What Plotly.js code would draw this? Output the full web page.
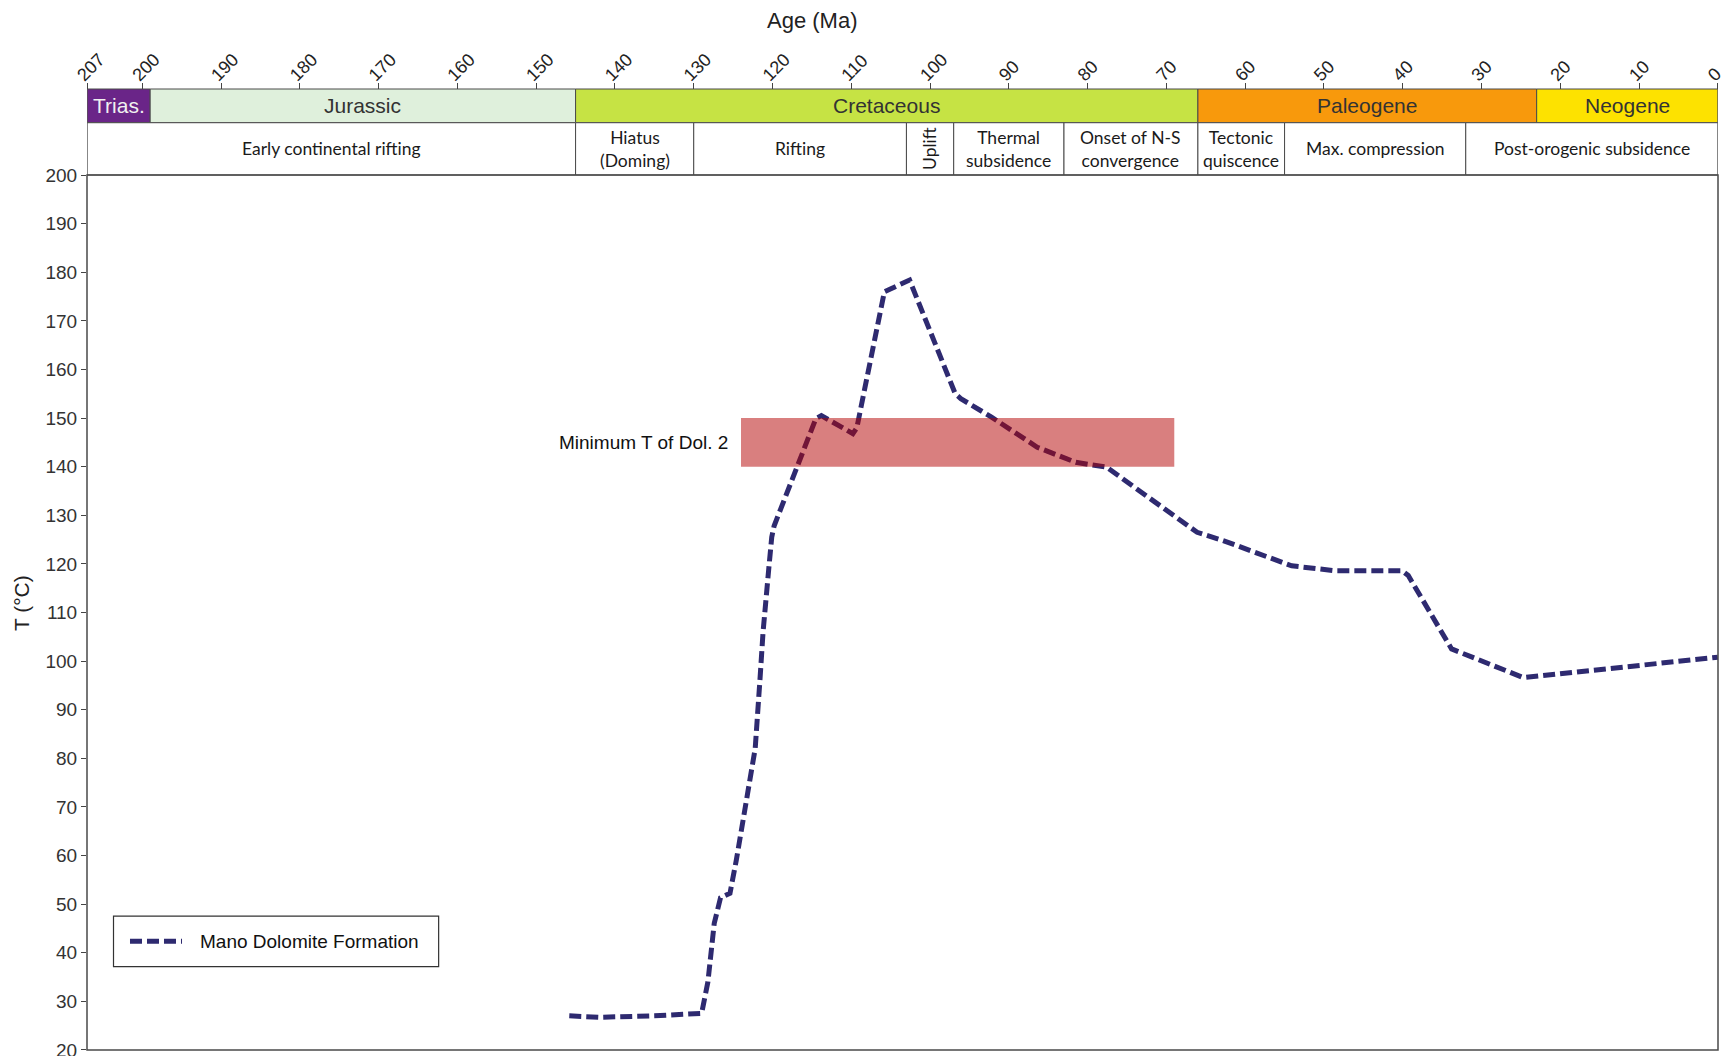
<!DOCTYPE html>
<html>
<head>
<meta charset="utf-8">
<script src="https://cdn.plot.ly/plotly-3.0.1.min.js"></script>
<style>html,body{margin:0;padding:0;background:#fff;}#chart{width:1728px;height:1056px;}</style>
</head>
<body>
<div id="chart"></div>
<script>
// ---- data ----
const seriesName = "Mano Dolomite Formation";
const ageMa = [145.8, 142.0, 135.0, 129.0, 128.2, 127.4, 126.6, 125.4, 124.6, 122.9, 122.2, 121.6, 121.2, 120.5, 120.1, 119.8, 114.5, 113.8, 109.8, 109.3, 105.8, 102.6, 96.8, 96.1, 92.2, 86.4, 81.5, 77.6, 73.4, 66.1, 62.8, 54.1, 48.6, 40.1, 39.3, 33.8, 24.7, 0];
const tempC = [27.0, 26.7, 27.0, 27.5, 34.0, 46.0, 51.3, 52.2, 59.0, 76.0, 82.0, 96.0, 106.0, 118.6, 125.5, 127.8, 149.9, 150.5, 146.8, 148.0, 176.0, 178.4, 155.0, 154.0, 150.2, 144.0, 140.9, 139.9, 135.0, 126.5, 124.8, 119.6, 118.6, 118.6, 117.6, 102.5, 96.6, 100.8];

const ageTicks = [207, 200, 190, 180, 170, 160, 150, 140, 130, 120, 110, 100, 90, 80, 70, 60, 50, 40, 30, 20, 10, 0];
const tempTicks = [20, 30, 40, 50, 60, 70, 80, 90, 100, 110, 120, 130, 140, 150, 160, 170, 180, 190, 200];

const periodNames = ["Trias.", "Jurassic", "Cretaceous", "Paleogene", "Neogene"];
const periodStart = [207, 199, 145, 66, 23];
const periodEnd   = [199, 145, 66, 23, 0];

const eventNames = ["Early continental rifting", "Hiatus<br>(Doming)", "Rifting", "Uplift", "Thermal<br>subsidence", "Onset of N-S<br>convergence", "Tectonic<br>quiscence", "Max. compression", "Post-orogenic subsidence"];
const eventStart = [207, 145, 130, 103, 97, 83, 66, 55, 32];
const eventEnd   = [145, 130, 103, 97, 83, 66, 55, 32, 0];

const bandLabel = "Minimum T of Dol. 2";
const bandAge = [124, 69];
const bandTemp = [140, 150];

// ---- styles ----
const periodColors = ["#6a2588", "#dff0dc", "#c6e344", "#f8990c", "#fde200"];
const periodTextColors = ["#f0f0f0", "#333", "#333", "#333", "#333"];
const lineColor = "#2e2a70";
const frameColor = "#4a4a4a";
const sans = "Liberation Sans, Arial, sans-serif";
const narrow = "Lato, Open Sans, sans-serif";
const dashPattern = "12px,5px";

// vertical layout in paper units
const plotTop = 0.9105;   // top of temperature plot
const eventTop = 0.9649;  // top of events row / bottom of period row

const shapes = [];
const annotations = [];

periodNames.forEach((n, i) => {
  shapes.push({type: "rect", xref: "x", yref: "paper", x0: periodStart[i], x1: periodEnd[i], y0: eventTop, y1: 1,
    fillcolor: periodColors[i], line: {color: frameColor, width: 1}, layer: "below"});
  annotations.push({xref: "x", yref: "paper", x: (periodStart[i] + periodEnd[i]) / 2, y: (eventTop + 1) / 2,
    text: n, showarrow: false, xanchor: "center", yanchor: "middle",
    font: {family: sans, size: 21, color: periodTextColors[i]}});
});

eventNames.forEach((n, i) => {
  shapes.push({type: "rect", xref: "x", yref: "paper", x0: eventStart[i], x1: eventEnd[i], y0: plotTop, y1: eventTop,
    fillcolor: "#ffffff", line: {color: frameColor, width: 1}, layer: "below"});
  const isUplift = n === "Uplift";
  annotations.push({xref: "x", yref: "paper", x: (eventStart[i] + eventEnd[i]) / 2, y: (plotTop + eventTop) / 2,
    text: n, showarrow: false, xanchor: "center", yanchor: "middle", textangle: isUplift ? -90 : 0,
    font: {family: narrow, size: 17.5, color: "#1a1a1a"}});
});

// plot frame
shapes.push({type: "rect", xref: "paper", yref: "paper", x0: 0, x1: 1, y0: 0, y1: plotTop,
  line: {color: frameColor, width: 1.5}, fillcolor: "rgba(0,0,0,0)", layer: "above"});

// minimum temperature band
shapes.push({type: "rect", xref: "x", yref: "y", x0: bandAge[0], x1: bandAge[1], y0: bandTemp[0], y1: bandTemp[1],
  fillcolor: "rgba(180,0,0,0.5)", line: {width: 0}, layer: "above"});
annotations.push({xref: "x", yref: "y", x: bandAge[0], y: (bandTemp[0] + bandTemp[1]) / 2, xshift: -11,
  text: bandLabel, showarrow: false, xanchor: "right", yanchor: "middle",
  font: {family: sans, size: 19, color: "#111"}});

// legend box (drawn by hand to match the sample length and box size)
shapes.push({type: "rect", xref: "paper", yref: "paper", x0: 0.01625, x1: 0.2156, y0: 0.0867, y1: 0.1394,
  line: {color: "#333", width: 1.2}, fillcolor: "#ffffff", layer: "above"});
shapes.push({type: "line", xref: "paper", yref: "paper", x0: 0.02636, x1: 0.05825, y0: 0.1131, y1: 0.1131,
  line: {color: lineColor, width: 5, dash: dashPattern}, layer: "above"});
annotations.push({xref: "paper", yref: "paper", x: 0.06806, y: 0.1131, text: seriesName, showarrow: false,
  xanchor: "left", yanchor: "middle", font: {family: sans, size: 19, color: "#111"}});

// axis titles
annotations.push({xref: "paper", yref: "paper", x: 0.4445, y: 1.0718, text: "Age (Ma)", showarrow: false,
  xanchor: "center", yanchor: "middle", font: {family: sans, size: 22, color: "#222"}});
annotations.push({xref: "paper", yref: "paper", x: -0.0405, y: 0.465, text: "T (°C)", showarrow: false,
  textangle: -90, xanchor: "center", yanchor: "middle", font: {family: sans, size: 21, color: "#222"}});

const trace = {
  x: ageMa, y: tempC, type: "scatter", mode: "lines", name: seriesName, showlegend: false,
  line: {color: lineColor, width: 5, dash: dashPattern}
};

const layout = {
  width: 1728, height: 1056,
  margin: {l: 87, r: 10, t: 89, b: 6},
  paper_bgcolor: "#ffffff", plot_bgcolor: "#ffffff",
  showlegend: false,
  xaxis: {range: [207.02, -0.02], side: "top", anchor: "free", position: 1, domain: [0, 1],
    tickmode: "array", tickvals: ageTicks, ticktext: ageTicks.map(String), tickangle: -45,
    ticklabelstandoff: -9, ticklabelshift: 9, ticklabeloverflow: "allow",
    ticks: "outside", ticklen: 6, tickcolor: "#444", tickwidth: 1,
    showgrid: false, zeroline: false, showline: false,
    tickfont: {family: sans, size: 18, color: "#222"}},
  yaxis: {range: [19.97, 200.02], domain: [0, plotTop], ticklabeloverflow: "allow",
    tickmode: "array", tickvals: tempTicks, ticktext: tempTicks.map(String),
    ticks: "outside", ticklen: 5, tickcolor: "#444", tickwidth: 1,
    showgrid: false, zeroline: false, showline: false,
    tickfont: {family: sans, size: 19, color: "#333"}},
  shapes: shapes,
  annotations: annotations
};

Plotly.newPlot("chart", [trace], layout, {displayModeBar: false, staticPlot: true});
</script>
</body>
</html>
